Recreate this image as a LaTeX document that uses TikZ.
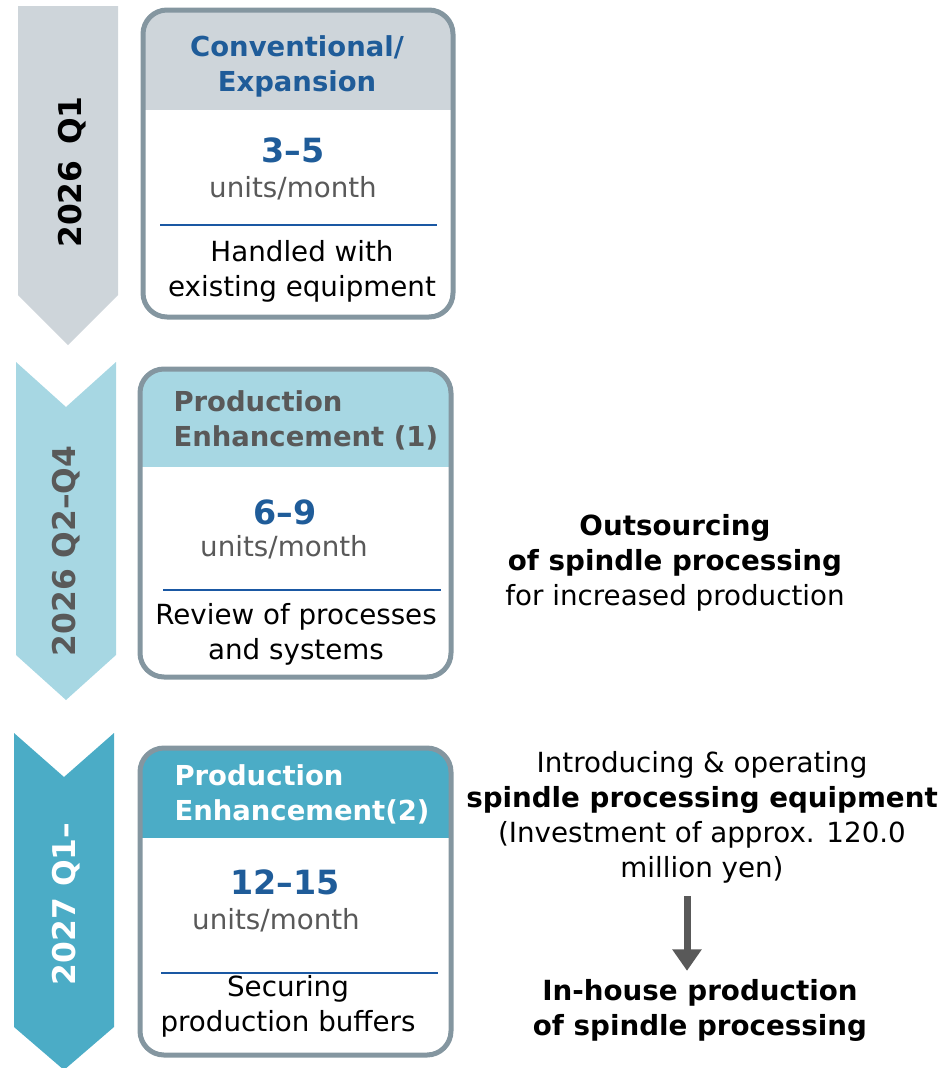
\documentclass[tikz,border=0pt]{standalone}
\usepackage{fontspec}
\setmainfont{DejaVu Sans}
\usetikzlibrary{arrows.meta}

\definecolor{chevgrey}{HTML}{CED5DA}
\definecolor{chevlight}{HTML}{A7D7E3}
\definecolor{chevteal}{HTML}{4BACC6}
\definecolor{cardrim}{HTML}{8496A0}
\definecolor{numblue}{HTML}{1F5C99}
\definecolor{rulebl}{HTML}{1A58A3}
\definecolor{softgrey}{HTML}{595959}

\tikzset{every picture/.style={line width=0.75pt}}
\tikzset{
  rim/.style={draw=cardrim, line width=3.75pt, rounded corners=18pt},
  hdr/.style={font=\fontsize{20.6}{26.25}\selectfont\bfseries, align=left, inner sep=0.75pt},
  num/.style={font=\fontsize{25}{30}\selectfont\bfseries, text=numblue, inner sep=0.75pt},
  unit/.style={font=\fontsize{20.8}{26.25}\selectfont, text=softgrey, inner sep=0.75pt},
  note/.style={font=\fontsize{20.8}{26.25}\selectfont, align=center, inner sep=0.75pt},
  period/.style={font=\fontsize{23.5}{26}\selectfont\bfseries, rotate=90, inner sep=0.75pt},
  divider/.style={draw=rulebl, line width=1.5pt},
  blockarrow/.style={draw=softgrey, line width=5.25pt, -{Triangle[width=21pt,length=16pt]}}
}

\begin{document}
\begin{tikzpicture}[x=0.75pt,y=0.75pt,yscale=-1,xscale=1]
	\useasboundingbox (0,0) rectangle (941,1068);

	%Shape: Chevron [id:2026q1]
	\fill [chevgrey] (18,6) -- (118,6) -- (118,295) -- (68,345) -- (18,295) -- cycle ;
	%Shape: Chevron [id:2026q2]
	\fill [chevlight] (16,362) -- (66,407) -- (116,362) -- (116,655) -- (66,700) -- (16,655) -- cycle ;
	%Shape: Chevron [id:2027q1]
	\fill [chevteal] (14,733) -- (64,777) -- (114,733) -- (114,1027) -- (64,1070) -- (14,1027) -- cycle ;

	% Text Node
	\draw (72,172) node [period] (per1) {2026\hspace{0.5em}Q1};
	% Text Node
	\draw (66,551) node [period, text=softgrey] (per2) {2026 Q2–Q4};
	% Text Node
	\draw (66,904) node [period, text=white] (per3) {2027 Q1–};

	%Shape: Rounded Rect [id:card1]
	\begin{scope}
	\clip [rounded corners=18pt] (143,10) rectangle (453,317);
	\fill [chevgrey] (143,10) rectangle (453,110);
	\end{scope}
	\draw [rim] (143,10) rectangle (453,317);
	%Straight Lines [id:rule1]
	\draw [divider] (160,225) -- (437,225);

	%Shape: Rounded Rect [id:card2]
	\begin{scope}
	\clip [rounded corners=18pt] (140,369) rectangle (451,677);
	\fill [chevlight] (140,369) rectangle (451,467);
	\end{scope}
	\draw [rim] (140,369) rectangle (451,677);
	%Straight Lines [id:rule2]
	\draw [divider] (163,590) -- (441,590);

	%Shape: Rounded Rect [id:card3]
	\begin{scope}
	\clip [rounded corners=18pt] (140,748) rectangle (451,1055);
	\fill [chevteal] (140,748) rectangle (451,838);
	\end{scope}
	\draw [rim] (140,748) rectangle (451,1055);
	%Straight Lines [id:rule3]
	\draw [divider] (161,973) -- (438,973);

	% Text Node
	\draw (297,66) node [hdr, align=center, text=numblue] (head1) {Conventional/\\Expansion};
	% Text Node
	\draw (293,150) node [num] (num1) {3–5};
	% Text Node
	\draw (293,188) node [unit] (unit1) {units/month};
	% Text Node
	\draw (302,271) node [note] (note1) {Handled with\\existing equipment};

	% Text Node
	\draw (172,420) node [hdr, anchor=west, text=softgrey] (head2) {Production\\Enhancement (1)};
	% Text Node
	\draw (285,512) node [num] (num2) {6–9};
	% Text Node
	\draw (284,547) node [unit] (unit2) {units/month};
	% Text Node
	\draw (296,634) node [note] (note2) {Review of processes\\and systems};

	% Text Node
	\draw (173,794) node [hdr, anchor=west, text=white] (head3) {Production\\Enhancement(2)};
	% Text Node
	\draw (285,882) node [num] (num3) {12–15};
	% Text Node
	\draw (276,920) node [unit] (unit3) {units/month};
	% Text Node
	\draw (288,1006) node [note] (note3) {Securing\\production buffers};

	% Text Node
	\draw (675,563) node [note] (outsrc) {\textbf{Outsourcing}\\\textbf{of spindle processing}\\for increased production};
	% Text Node
	\draw (702,817) node [note] (invest) {Introducing \& operating\\\textbf{spindle processing equipment}\\(Investment of approx. 120.0\\million yen)};
	% Text Node
	\draw (700,1010) node [note] (inhouse) {\textbf{In-house production}\\\textbf{of spindle processing}};

	%Block Arrow [id:arrow]
	\coordinate (axis) at (687,0);
	\draw [blockarrow, shorten <=9pt, shorten >=5pt] (invest.south -| axis) -- (inhouse.north -| axis);
\end{tikzpicture}
\end{document}
